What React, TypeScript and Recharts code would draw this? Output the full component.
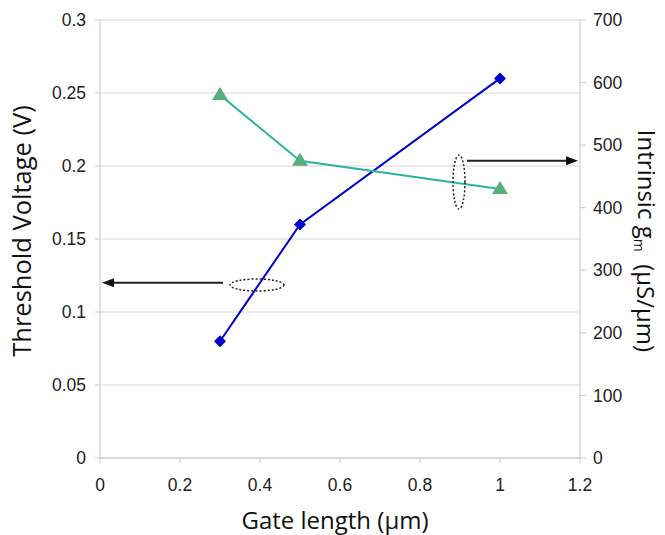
import { LineChart, Line, XAxis, YAxis, CartesianGrid, ReferenceLine, ReferenceDot, Label } from 'recharts';

// gate length (µm) and the two measured quantities
const gateLength = [0.3, 0.5, 1.0];
const thresholdVoltage = [0.08, 0.16, 0.26];
const intrinsicGm = [580, 475, 430];

const xTicks = [0, 0.2, 0.4, 0.6, 0.8, 1, 1.2];
const vtTicks = [0, 0.05, 0.1, 0.15, 0.2, 0.25, 0.3];
const gmTicks = [0, 100, 200, 300, 400, 500, 600, 700];

const data = gateLength.map((x, i) => ({
  x,
  vt: thresholdVoltage[i],
  gm: intrinsicGm[i],
}));

const tickFont = { fontFamily: 'Liberation Sans, Arial, sans-serif', fontSize: 17.5, fill: '#222' };
const titleFont = 'Open Sans, Noto Sans, sans-serif';
const axisGray = '#c8c8c8';

const Diamond = (props: any) => {
  const { cx, cy } = props;
  if (cx == null || cy == null) return null;
  const s = 6;
  return <polygon points={`${cx},${cy - s} ${cx + s},${cy} ${cx},${cy + s} ${cx - s},${cy}`} fill="#0000cc" />;
};

const Triangle = (props: any) => {
  const { cx, cy } = props;
  if (cx == null || cy == null) return null;
  return <polygon points={`${cx},${cy - 8} ${cx + 8},${cy + 5} ${cx - 8},${cy + 5}`} fill="#5aae7c" />;
};

// annotation arrow drawn between the segment ends
const Arrow = (props: any) => {
  const { x1, y1, x2, y2 } = props;
  const dx = x2 - x1;
  const dy = y2 - y1;
  const len = Math.sqrt(dx * dx + dy * dy) || 1;
  const ux = dx / len;
  const uy = dy / len;
  const hl = 12;
  const hw = 4.5;
  const bx = x2 - ux * hl;
  const by = y2 - uy * hl;
  return (
    <g>
      <line x1={x1} y1={y1} x2={bx} y2={by} stroke="#222" strokeWidth={2} />
      <polygon
        points={`${x2},${y2} ${bx - uy * hw},${by + ux * hw} ${bx + uy * hw},${by - ux * hw}`}
        fill="#111"
      />
    </g>
  );
};

const Ellipse = (rx: number, ry: number) => (props: any) => {
  const { cx, cy } = props;
  if (cx == null || cy == null) return null;
  return <ellipse cx={cx} cy={cy} rx={rx} ry={ry} fill="none" stroke="#222" strokeWidth={1.5} strokeDasharray="2 2" />;
};

const LeftTitle = (props: any) => {
  const { viewBox } = props;
  const cx = viewBox.x + 21;
  const cy = 231;
  return (
    <text x={cx} y={cy} transform={`rotate(-90, ${cx}, ${cy})`} textAnchor="middle" dominantBaseline="central"
      style={{ fontFamily: titleFont, fontSize: 25.5, fill: '#111' }}>
      Threshold Voltage (V)
    </text>
  );
};

const RightTitle = (props: any) => {
  const { viewBox } = props;
  const cx = viewBox.x + 67;
  const cy = 241;
  return (
    <text x={cx} y={cy} transform={`rotate(90, ${cx}, ${cy})`} textAnchor="middle" dominantBaseline="central"
      style={{ fontFamily: titleFont, fontSize: 24, fill: '#111' }}>
      Intrinsic g
      <tspan dy={7} fontSize={14}>m</tspan>
      <tspan dy={-7}>{'\u00a0\u00a0(µS/µm)'}</tspan>
    </text>
  );
};

const BottomTitle = (props: any) => {
  const { viewBox } = props;
  const cx = viewBox.x + viewBox.width / 2 - 5;
  return (
    <text x={cx} y={519} textAnchor="middle" dominantBaseline="central"
      style={{ fontFamily: titleFont, fontSize: 24, fill: '#111' }}>
      Gate length (µm)
    </text>
  );
};

export default function App() {
  return (
    <div style={{ position: 'absolute', left: 0, top: 0, background: '#fff' }}>
      <LineChart width={665} height={535} data={data} margin={{ top: 20, right: 0, bottom: 0, left: 0 }}>
        <CartesianGrid yAxisId="left" vertical={false} stroke="#d6d6d6" horizontalValues={vtTicks} />
        <XAxis
          dataKey="x"
          type="number"
          domain={[0, 1.2]}
          ticks={xTicks}
          height={77}
          stroke={axisGray}
          tickSize={5}
          tickMargin={16}
          tick={tickFont}
          tickFormatter={(v: number) => String(v)}
        >
          <Label content={BottomTitle} />
        </XAxis>
        <YAxis
          yAxisId="left"
          domain={[0, 0.3]}
          ticks={vtTicks}
          width={100}
          stroke={axisGray}
          tickSize={5}
          tickMargin={9}
          tick={tickFont}
          tickFormatter={(v: number) => String(v)}
        >
          <Label content={LeftTitle} />
        </YAxis>
        <YAxis
          yAxisId="right"
          orientation="right"
          domain={[0, 700]}
          ticks={gmTicks}
          width={85}
          stroke={axisGray}
          tickSize={6}
          tickMargin={7}
          tick={tickFont}
        >
          <Label content={RightTitle} />
        </YAxis>

        <Line
          yAxisId="left"
          dataKey="vt"
          stroke="#0000cc"
          strokeWidth={2}
          dot={<Diamond />}
          activeDot={false}
          isAnimationActive={false}
        />
        <Line
          yAxisId="right"
          dataKey="gm"
          stroke="#2bb4a0"
          strokeWidth={2}
          dot={<Triangle />}
          activeDot={false}
          isAnimationActive={false}
        />

        <ReferenceLine
          yAxisId="left"
          segment={[{ x: 0.3075, y: 0.12 }, { x: 0.005, y: 0.12 }]}
          shape={Arrow}
        />
        <ReferenceDot yAxisId="left" x={0.3925} y={0.1185} r={1} shape={Ellipse(27, 6)} />
        <ReferenceLine
          yAxisId="left"
          segment={[{ x: 0.9175, y: 0.2036 }, { x: 1.195, y: 0.2036 }]}
          shape={Arrow}
        />
        <ReferenceDot yAxisId="left" x={0.8975} y={0.189} r={1} shape={Ellipse(6, 27)} />
      </LineChart>
    </div>
  );
}
